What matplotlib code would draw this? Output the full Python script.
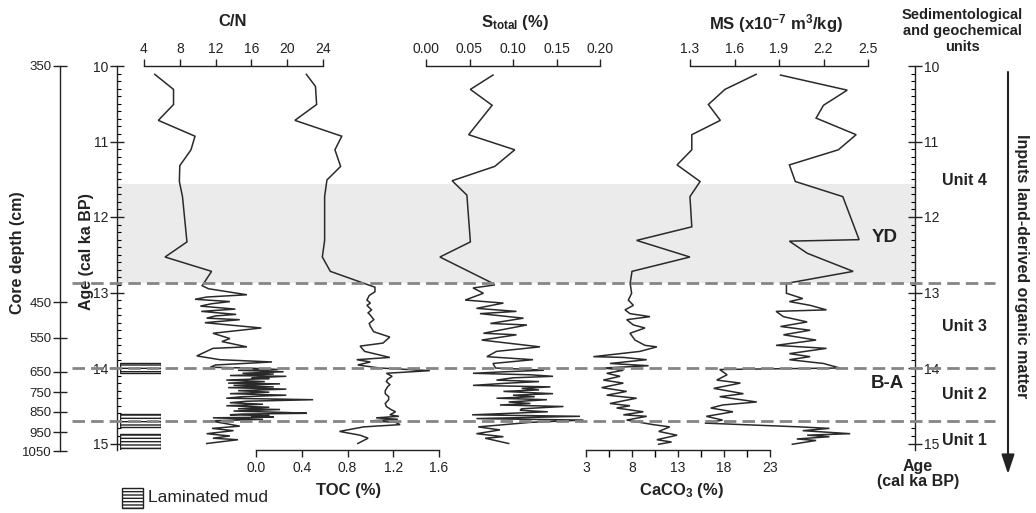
import matplotlib
matplotlib.use("Agg")
import matplotlib.pyplot as plt
from matplotlib.patches import Rectangle, FancyArrowPatch
from matplotlib.ticker import MultipleLocator, FixedLocator

# ---------------- data (age in cal ka BP, value) ----------------
cn_data = [
    (10.11, 5.2), (10.31, 7.3), (10.51, 7.3), (10.72, 5.6), (10.93, 9.7), (11.11, 9.25),
    (11.32, 8.0), (11.53, 7.95), (11.73, 8.3), (12.33, 8.8), (12.53, 6.35), (12.72, 11.55),
    (12.91, 10.5), (12.95, 11.2), (13.03, 15.5), (13.06, 11.0), (13.09, 9.7), (13.12, 13.6),
    (13.15, 11.5), (13.18, 10.3), (13.22, 14.2), (13.25, 10.4), (13.29, 14.3), (13.31, 12.0),
    (13.34, 11.0), (13.36, 14.7), (13.40, 10.8), (13.47, 17.1), (13.54, 11.7), (13.61, 13.6),
    (13.65, 12.7), (13.72, 15.5), (13.74, 11.7), (13.84, 9.9), (13.89, 12.5), (13.92, 18.3),
    (13.96, 12.0), (13.99, 11.4), (14.00, 15.5), (14.02, 19.0), (14.03, 14.5), (14.05, 19.6),
    (14.07, 15.0), (14.08, 18.5), (14.10, 13.6), (14.11, 19.9), (14.13, 16.0), (14.14, 18.0),
    (14.16, 13.2), (14.18, 17.5), (14.20, 13.4), (14.21, 19.2), (14.23, 14.0), (14.25, 18.5),
    (14.26, 13.4), (14.28, 19.9), (14.30, 14.5), (14.32, 18.0), (14.34, 13.6), (14.36, 19.9),
    (14.38, 15.0), (14.40, 13.2), (14.42, 22.9), (14.44, 15.5), (14.46, 13.6), (14.48, 17.3),
    (14.50, 13.2), (14.52, 18.0), (14.54, 14.5), (14.55, 19.2), (14.57, 14.0), (14.59, 20.0),
    (14.60, 22.2), (14.61, 15.0), (14.62, 13.6), (14.63, 18.0), (14.64, 16.0), (14.65, 18.5),
    (14.66, 11.7), (14.68, 17.3), (14.70, 11.4), (14.77, 14.7), (14.80, 11.6), (14.83, 14.0),
    (14.87, 11.0), (14.90, 13.6), (14.93, 11.7), (14.95, 14.5), (15.00, 11.0),
]

toc_data = [
    (10.11, 0.44), (10.27, 0.52), (10.51, 0.53), (10.72, 0.34), (10.93, 0.75), (11.11, 0.69),
    (11.33, 0.74), (11.51, 0.62), (11.73, 0.60), (12.31, 0.60), (12.53, 0.58), (12.72, 0.65),
    (12.93, 1.04), (12.99, 1.04), (13.04, 0.99), (13.10, 0.97), (13.14, 1.00), (13.17, 0.97),
    (13.23, 1.01), (13.27, 0.98), (13.30, 1.00), (13.36, 1.03), (13.41, 0.99), (13.45, 1.00),
    (13.52, 1.03), (13.59, 1.17), (13.67, 1.11), (13.71, 0.91), (13.78, 0.95), (13.86, 1.17),
    (13.89, 0.88), (13.92, 1.00), (13.96, 0.89), (14.00, 1.08), (14.035, 1.52), (14.07, 1.14),
    (14.11, 1.19), (14.15, 1.15), (14.18, 1.14), (14.22, 1.17), (14.25, 1.15), (14.30, 1.13),
    (14.34, 1.13), (14.38, 1.16), (14.42, 1.16), (14.47, 1.13), (14.51, 1.14), (14.55, 1.18),
    (14.58, 1.22), (14.62, 1.17), (14.64, 1.25), (14.66, 1.05), (14.68, 1.24), (14.70, 1.00),
    (14.72, 1.22), (14.75, 1.26), (14.78, 0.94), (14.84, 0.73), (14.89, 0.91), (14.93, 0.98),
    (15.00, 0.89),
]

s_data = [
    (10.12, 0.077), (10.31, 0.051), (10.52, 0.076), (10.91, 0.049), (11.11, 0.102),
    (11.33, 0.079), (11.52, 0.030), (11.71, 0.047), (12.33, 0.051), (12.53, 0.016),
    (12.88, 0.077), (12.90, 0.079), (12.94, 0.054), (13.01, 0.066), (13.10, 0.045),
    (13.14, 0.089), (13.21, 0.058), (13.25, 0.104), (13.28, 0.062), (13.34, 0.112),
    (13.41, 0.074), (13.43, 0.116), (13.54, 0.066), (13.56, 0.104), (13.63, 0.064),
    (13.72, 0.131), (13.78, 0.081), (13.85, 0.070), (13.89, 0.123), (13.94, 0.077),
    (14.00, 0.080), (14.02, 0.120), (14.03, 0.135), (14.05, 0.090), (14.07, 0.054),
    (14.09, 0.120), (14.11, 0.146), (14.13, 0.100), (14.16, 0.081), (14.18, 0.130),
    (14.20, 0.095), (14.23, 0.054), (14.25, 0.143), (14.27, 0.110), (14.29, 0.130),
    (14.31, 0.089), (14.34, 0.146), (14.36, 0.100), (14.38, 0.125), (14.40, 0.081),
    (14.42, 0.139), (14.45, 0.095), (14.47, 0.120), (14.49, 0.085), (14.51, 0.158),
    (14.54, 0.110), (14.56, 0.108), (14.58, 0.140), (14.62, 0.053), (14.64, 0.177),
    (14.67, 0.058), (14.69, 0.181), (14.72, 0.120), (14.78, 0.060), (14.82, 0.085),
    (14.87, 0.058), (14.91, 0.089), (14.93, 0.068), (15.00, 0.095),
]

caco3_data = [
    (10.11, 21.5), (10.31, 18.1), (10.51, 16.3), (10.72, 17.6), (10.91, 14.5), (11.11, 14.5),
    (11.31, 12.9), (11.53, 15.4), (11.73, 14.3), (12.13, 14.5), (12.31, 8.5), (12.53, 14.3),
    (12.72, 8.0), (12.88, 7.8), (13.01, 7.96), (13.10, 7.6), (13.17, 8.15), (13.23, 7.24),
    (13.28, 7.78), (13.32, 9.96), (13.36, 7.42), (13.43, 8.15), (13.47, 9.41), (13.54, 7.78),
    (13.63, 8.33), (13.70, 9.41), (13.72, 10.7), (13.78, 8.87), (13.85, 3.8), (13.86, 7.06),
    (13.89, 9.6), (13.94, 5.6), (13.97, 9.8), (14.00, 4.9), (14.03, 7.06), (14.07, 5.25),
    (14.11, 6.7), (14.16, 4.88), (14.20, 7.06), (14.26, 4.7), (14.31, 7.42), (14.36, 5.25),
    (14.40, 8.5), (14.47, 5.6), (14.50, 7.78), (14.53, 6.33), (14.58, 9.23), (14.62, 7.06),
    (14.64, 9.6), (14.69, 7.42), (14.75, 10.3), (14.78, 12.1), (14.84, 10.9), (14.89, 12.9),
    (14.95, 10.7), (14.98, 12.3), (15.01, 10.9),
]

ms_data = [
    (10.12, 1.91), (10.32, 2.36), (10.52, 2.20), (10.69, 2.15), (10.91, 2.42), (11.11, 2.30),
    (11.31, 1.97), (11.53, 2.01), (11.73, 2.33), (12.30, 2.44), (12.32, 1.97), (12.48, 2.09),
    (12.72, 2.40), (12.88, 1.95), (12.94, 1.95), (13.01, 1.95), (13.08, 2.06), (13.12, 1.97),
    (13.17, 2.11), (13.23, 2.22), (13.25, 1.88), (13.32, 1.93), (13.39, 2.09), (13.45, 1.91),
    (13.50, 2.11), (13.56, 1.93), (13.63, 2.15), (13.70, 1.88), (13.74, 2.22), (13.81, 1.97),
    (13.85, 2.11), (13.89, 1.97), (13.94, 2.20), (14.00, 2.31), (14.02, 1.50), (14.09, 1.55),
    (14.16, 1.48), (14.20, 1.64), (14.27, 1.46), (14.34, 1.66), (14.38, 1.50), (14.45, 1.75),
    (14.49, 1.52), (14.53, 1.44), (14.58, 1.59), (14.64, 1.41), (14.69, 1.52), (14.73, 1.40),
    (14.78, 2.04), (14.80, 2.24), (14.83, 2.06), (14.87, 2.38), (14.89, 2.09), (14.91, 2.24),
    (14.94, 2.02), (14.96, 2.15), (15.01, 1.99),
]

cn_ticks = [4, 8, 12, 16, 20, 24]
toc_ticks = [0.0, 0.4, 0.8, 1.2, 1.6]
s_ticks = [0.00, 0.05, 0.10, 0.15, 0.20]
caco3_ticks = [3, 8, 13, 18, 23]
ms_ticks = [1.3, 1.6, 1.9, 2.2, 2.5]
age_ticks = [10, 11, 12, 13, 14, 15]
depth_ticks = [350, 450, 550, 650, 750, 850, 950, 1050]
depth_tick_age = [10.0, 13.13, 13.60, 14.05, 14.32, 14.58, 14.85, 15.10]
laminated = [(13.93, 14.07), (14.61, 14.78), (14.87, 15.09)]
yd_band = (11.56, 12.88)
boundaries = [12.88, 14.0, 14.70]
units = [("Unit 4", 11.52), ("Unit 3", 13.45), ("Unit 2", 14.35), ("Unit 1", 14.96)]

# ---------------- style ----------------
plt.rcParams['font.family'] = ['Liberation Sans', 'DejaVu Sans']
plt.rcParams['mathtext.fontset'] = 'custom'
plt.rcParams['mathtext.rm'] = 'Liberation Sans'
plt.rcParams['mathtext.it'] = 'Liberation Sans:italic'
plt.rcParams['mathtext.bf'] = 'Liberation Sans:bold'
plt.rcParams['mathtext.default'] = 'bf'
plt.rcParams['hatch.linewidth'] = 1.0

INK = '#222222'
LINE = '#2a2a2a'
W, H = 1036, 513
fig = plt.figure(figsize=(W / 100, H / 100), dpi=100)

AGE_TOP = 10.0
PX_TOP = 66.0
PX_PER_KA = 75.5
TICK_FS = 10
TITLE_FS = 12


def fx(x):
    return x / W


def fy(y):
    return 1 - y / H


def make_axes(x0, x1, xlim, age_bottom=15.08, zorder=2):
    y_bot = PX_TOP + (age_bottom - AGE_TOP) * PX_PER_KA
    ax = fig.add_axes([x0 / W, 1 - y_bot / H, (x1 - x0) / W, (y_bot - PX_TOP) / H], zorder=zorder)
    ax.set_xlim(*xlim)
    ax.set_ylim(age_bottom, AGE_TOP)
    ax.patch.set_visible(False)
    for s in ax.spines.values():
        s.set_visible(False)
        s.set_color(INK)
        s.set_linewidth(1.0)
    ax.tick_params(left=False, labelleft=False, bottom=False, labelbottom=False,
                   colors=INK, labelcolor=INK)
    return ax


def scale_axis(ax, side, ticks, fmt, minor=None):
    ax.spines[side].set_visible(True)
    ax.xaxis.set_ticks_position(side)
    ax.set_xticks(ticks)
    ax.set_xticklabels([fmt.format(t) for t in ticks])
    if minor is not None:
        ax.xaxis.set_minor_locator(FixedLocator(minor))
        ax.tick_params(axis='x', which='minor', direction='out', length=5, width=1.0,
                       top=(side == 'top'), bottom=(side == 'bottom'))
    pad = 2.0 if side == 'top' else 3.0
    ax.tick_params(axis='x', which='major', direction='out', length=5, width=1.0,
                   labelsize=TICK_FS, pad=pad,
                   top=(side == 'top'), labeltop=(side == 'top'),
                   bottom=(side == 'bottom'), labelbottom=(side == 'bottom'))


# ---------------- age axes (left & right) with YD band ----------------
ax_age = make_axes(117, 915, (0, 1), zorder=1)
ax_age.axhspan(yd_band[0], yd_band[1], color='#ebebeb', lw=0, zorder=0)
for side in ('left', 'right'):
    ax_age.spines[side].set_visible(True)
ax_age.yaxis.set_major_locator(FixedLocator(age_ticks))
ax_age.yaxis.set_minor_locator(MultipleLocator(0.1))
ax_age.set_yticklabels([str(a) for a in age_ticks])
ax_age.tick_params(axis='y', which='major', left=True, right=True, labelleft=True, labelright=True,
                   direction='inout', length=9.5, width=1.0, labelsize=TICK_FS, pad=1.5)
ax_age.tick_params(axis='y', which='minor', left=True, right=True, direction='in', length=3, width=0.8)

# ---------------- depth axis ----------------
ax_dep = make_axes(60, 61, (0, 1), age_bottom=15.10, zorder=1)
ax_dep.spines['left'].set_visible(True)
ax_dep.set_yticks(depth_tick_age)
ax_dep.set_yticklabels([str(d) for d in depth_ticks])
ax_dep.tick_params(axis='y', left=True, labelleft=True, direction='inout', length=10,
                   width=1.0, labelsize=9.5, pad=1)

# ---------------- lithology column ----------------
ax_lith = make_axes(120, 161, (0, 1), zorder=2)
for top, bot in laminated:
    ax_lith.add_patch(Rectangle((0, top), 1, bot - top, facecolor='white', edgecolor=INK,
                                hatch='-----', lw=1.0))

# ---------------- panels ----------------
def curve(ax, data):
    ages, vals = zip(*data)
    ax.plot(vals, ages, color=LINE, lw=1.1, clip_on=False, solid_joinstyle='miter')


ax_cn = make_axes(144, 323, (4, 24))
scale_axis(ax_cn, 'top', cn_ticks, '{:d}')
curve(ax_cn, cn_data)

ax_toc = make_axes(256, 439, (0, 1.6))
scale_axis(ax_toc, 'bottom', toc_ticks, '{:.1f}')
curve(ax_toc, toc_data)

ax_s = make_axes(426, 600, (0, 0.20))
scale_axis(ax_s, 'top', s_ticks, '{:.2f}')
curve(ax_s, s_data)

ax_ca = make_axes(586, 770, (3, 23))
scale_axis(ax_ca, 'bottom', caco3_ticks, '{:d}', minor=[5.5, 10.5, 15.5, 20.5])
curve(ax_ca, caco3_data)

ax_ms = make_axes(690, 868, (1.3, 2.5))
scale_axis(ax_ms, 'top', ms_ticks, '{:.1f}')
curve(ax_ms, ms_data)

# ---------------- boundaries (dashed) ----------------
ax_over = make_axes(0, W, (0, 1), zorder=6)
for b in boundaries:
    ax_over.axhline(b, xmin=72 / W, xmax=995 / W, color='#858585', lw=2.0, dashes=(4.5, 2.2))

# ---------------- texts ----------------
bold = dict(fontweight='bold', color=INK)
fig.text(fx(233), fy(22), 'C/N', ha='center', va='center', fontsize=TITLE_FS, **bold)
fig.text(fx(515), fy(23), r'S$_{total}$ (%)', ha='center', va='center', fontsize=TITLE_FS, **bold)
fig.text(fx(776), fy(24), r'MS (x10$^{-7}$ m$^{3}$/kg)', ha='center', va='center',
         fontsize=TITLE_FS, **bold)
fig.text(fx(349), fy(491), 'TOC (%)', ha='center', va='center', fontsize=TITLE_FS, **bold)
fig.text(fx(681), fy(491), r'CaCO$_{3}$ (%)', ha='center', va='center', fontsize=TITLE_FS, **bold)
fig.text(fx(18), fy(253), 'Core depth (cm)', rotation=90, ha='center', va='center',
         fontsize=11.5, **bold)
fig.text(fx(86), fy(252), 'Age (cal ka BP)', rotation=90, ha='center', va='center',
         fontsize=11.5, **bold)
fig.text(fx(962), fy(8), 'Sedimentological\nand geochemical\nunits', ha='center', va='top',
         fontsize=10.5, linespacing=1.2, **bold)
fig.text(fx(918), fy(474), 'Age\n(cal ka BP)', ha='center', va='center', fontsize=11.5,
         linespacing=1.05, **bold)
fig.text(fx(1022), fy(266), 'Inputs land-derived organic matter', rotation=-90, ha='center',
         va='center', fontsize=11.5, **bold)
for name, age in units:
    ax_over.text(964 / W, age, name, ha='center', va='center', fontsize=11.5, **bold)
ax_over.text(885 / W, 12.27, 'YD', ha='center', va='center', fontsize=13.5, **bold)
ax_over.text(887 / W, 14.20, 'B-A', ha='center', va='center', fontsize=13.5, **bold)

# arrow
fig.add_artist(FancyArrowPatch((fx(1008), fy(72)), (fx(1008), fy(474)), transform=fig.transFigure,
                               arrowstyle='-|>,head_length=0.9,head_width=0.3', mutation_scale=13,
                               color=INK, lw=1.5, shrinkA=0, shrinkB=0))

# legend for laminated mud
fig.add_artist(Rectangle((fx(122), fy(508)), 21 / W, 20 / H, transform=fig.transFigure,
                         facecolor='white', edgecolor=INK, hatch='-----', lw=1.0))
fig.text(fx(148), fy(498), 'Laminated mud', ha='left', va='center', fontsize=12.5, color=INK)

fig.savefig('out.png', dpi=100)
